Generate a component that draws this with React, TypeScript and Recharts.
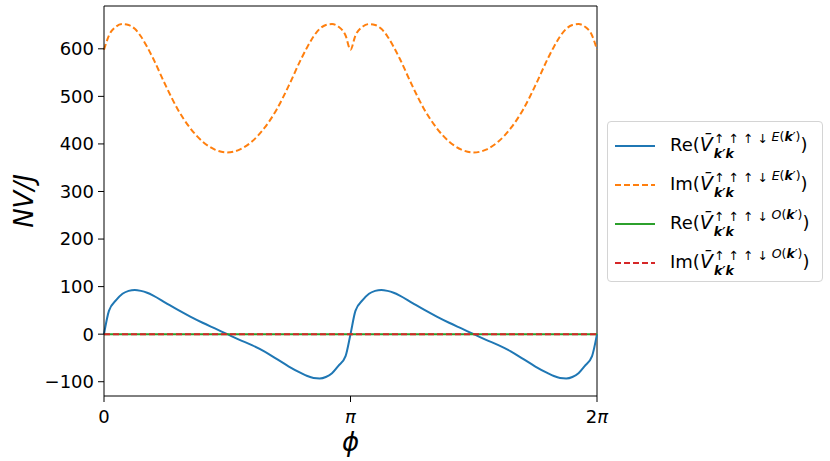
import React from 'react';
import { Line, LineChart, ReferenceLine, XAxis, YAxis } from 'recharts';

// phi in units of pi
const phi = [
  0, 0.02, 0.05, 0.075, 0.1, 0.125, 0.15, 0.175, 0.2, 0.25, 0.3, 0.35, 0.4, 0.45, 0.5,
  0.55, 0.6, 0.65, 0.7, 0.75, 0.8, 0.825, 0.85, 0.875, 0.9, 0.925, 0.95, 0.98, 1.0,
  1.02, 1.05, 1.075, 1.1, 1.125, 1.15, 1.175, 1.2, 1.25, 1.3, 1.35, 1.4, 1.45, 1.5,
  1.55, 1.6, 1.65, 1.7, 1.75, 1.8, 1.825, 1.85, 1.875, 1.9, 1.925, 1.95, 1.98, 2.0,
];

const reE = [
  0, 49, 72, 85, 91, 93, 91, 87, 81, 66, 51, 37, 24, 12, 0,
  -12, -23, -36, -52, -68, -82, -88, -92, -93, -90, -82, -67, -46, 0,
  49, 72, 85, 91, 93, 91, 87, 81, 66, 51, 37, 24, 12, 0,
  -12, -23, -36, -52, -68, -82, -88, -92, -93, -90, -82, -67, -46, 0,
];

const imE = [
  598, 628, 647, 652, 650, 642, 626, 604, 579, 523, 472, 433, 405, 388, 382,
  388, 405, 433, 472, 523, 579, 604, 626, 642, 650, 652, 647, 628, 598,
  628, 647, 652, 650, 642, 626, 604, 579, 523, 472, 433, 405, 388, 382,
  388, 405, 433, 472, 523, 579, 604, 626, 642, 650, 652, 647, 628, 598,
];

const reO = phi.map(() => 0);
const imO = phi.map(() => 0);

const xTicks = [0, 1, 2];
const yTicks = [-100, 0, 100, 200, 300, 400, 500, 600];

const data = phi.map((p, i) => ({ phi: p, reE: reE[i], imE: imE[i], reO: reO[i], imO: imO[i] }));

const FONT = '"DejaVu Sans", sans-serif';

const XTick = ({ x, y, payload }: any) => {
  const v = payload.value;
  return (
    <text x={x} y={y + 19} textAnchor="middle" fontSize={18} fontFamily={FONT} fill="#000">
      {v === 0 ? '0' : v === 1 ? <tspan fontStyle="italic">π</tspan> : (<><tspan>2</tspan><tspan fontStyle="italic">π</tspan></>)}
    </text>
  );
};

const legendItems = [
  { color: '#1f77b4', dash: undefined, part: 'Re', sup: 'E' },
  { color: '#ff7f0e', dash: '6 3', part: 'Im', sup: 'E' },
  { color: '#2ca02c', dash: undefined, part: 'Re', sup: 'O' },
  { color: '#d62728', dash: '6 3', part: 'Im', sup: 'O' },
];

const LegendLabel = ({ part, sup }: { part: string; sup: string }) => (
  <span style={{ fontSize: 18, fontFamily: FONT, whiteSpace: 'nowrap', lineHeight: 1 }}>
    {part}(<span style={{ fontStyle: 'italic', fontSize: 19 }}>{'V\u0304'}</span>
    <span style={{ display: 'inline-flex', flexDirection: 'column', verticalAlign: 'middle', fontSize: 12.5, lineHeight: 1, marginLeft: 1, gap: 3, position: 'relative', top: 1 }}>
      <span>
        ↑ ↑ ↑ ↓ <span style={{ position: 'relative', top: -2 }}><i>{sup}</i>(<b><i>k</i></b>′)</span>
      </span>
      <span style={{ fontWeight: 'bold', fontStyle: 'italic' }}>k′k</span>
    </span>
    )
  </span>
);

export default function App() {
  return (
    <div style={{ position: 'absolute', left: 0, top: 0, width: 830, height: 461, background: '#fff' }}>
      <LineChart width={830} height={461} data={data} margin={{ top: 6, right: 233, left: 0, bottom: 0 }}>
        <XAxis
          dataKey="phi"
          type="number"
          domain={[0, 2]}
          ticks={xTicks}
          height={65}
          tick={<XTick />}
          tickSize={6}
          stroke="#000"
          label={{ value: 'ϕ', position: 'insideBottom', offset: 10, style: { fontSize: 26, fontStyle: 'italic', fontFamily: FONT, fill: '#000' } }}
        />
        <YAxis
          type="number"
          domain={[-130, 690]}
          ticks={yTicks}
          width={104}
          tickSize={6}
          tickMargin={4}
          stroke="#000"
          tick={{ fontSize: 18, fontFamily: FONT, fill: '#000' }}
          tickFormatter={(v: number) => (v < 0 ? '\u2212' + Math.abs(v) : String(v))}
          label={{ value: 'NV/J', angle: -90, position: 'insideLeft', offset: 24, style: { fontSize: 26, fontStyle: 'italic', fontFamily: FONT, fill: '#000', textAnchor: 'middle' } }}
          allowDataOverflow
        />
        <ReferenceLine x={2} stroke="#000" />
        <ReferenceLine y={690} stroke="#000" />
        <Line type="monotone" dataKey="reE" stroke="#1f77b4" strokeWidth={2} dot={false} activeDot={false} isAnimationActive={false} />
        <Line type="monotone" dataKey="imE" stroke="#ff7f0e" strokeWidth={2} strokeDasharray="6 3" dot={false} activeDot={false} isAnimationActive={false} />
        <Line type="linear" dataKey="reO" stroke="#2ca02c" strokeWidth={2} dot={false} activeDot={false} isAnimationActive={false} />
        <Line type="linear" dataKey="imO" stroke="#d62728" strokeWidth={2} strokeDasharray="6 3" dot={false} activeDot={false} isAnimationActive={false} />
      </LineChart>
      <div
        style={{
          position: 'absolute', left: 607, top: 121, width: 214, height: 159,
          border: '1px solid #d4d4d4', borderRadius: 4, background: 'rgba(255,255,255,0.8)', boxSizing: 'content-box',
        }}
      >
        {legendItems.map((it, i) => (
          <div key={i} style={{ position: 'absolute', left: 0, top: 4 + i * 39, height: 39, display: 'flex', alignItems: 'center' }}>
            <svg width={62} height={6} style={{ display: 'block' }}>
              <line x1={7} y1={3} x2={47} y2={3} stroke={it.color} strokeWidth={2} strokeDasharray={it.dash} />
            </svg>
            <LegendLabel part={it.part} sup={it.sup} />
          </div>
        ))}
      </div>
    </div>
  );
}
